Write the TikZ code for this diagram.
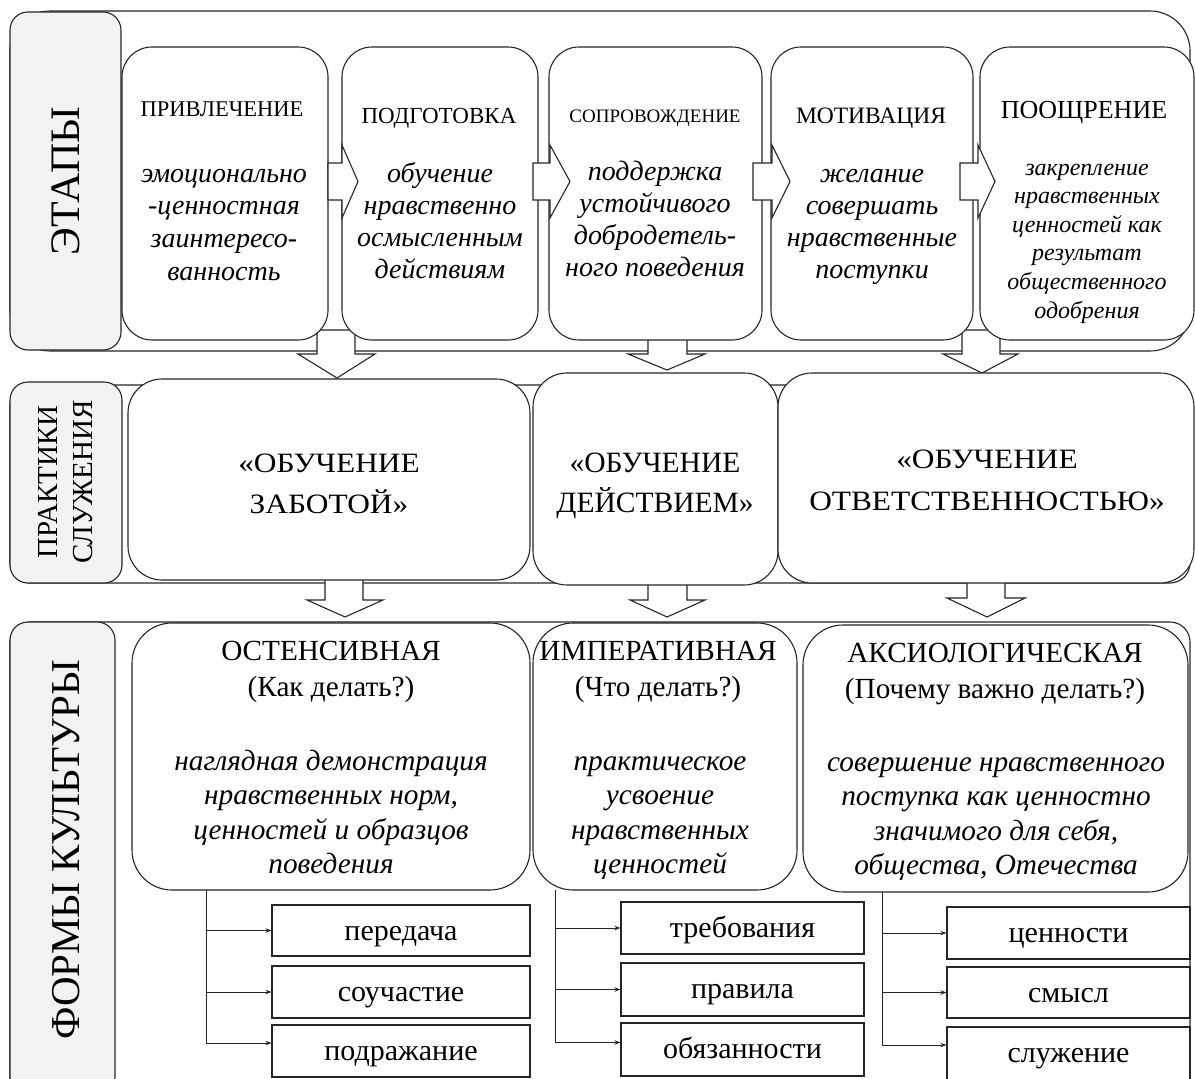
\documentclass[tikz,border=0pt]{standalone}
\usepackage{fontspec}
\setmainfont{Liberation Serif}
\newfontfamily\wide{Liberation Serif}[FakeStretch=1.12]
\usetikzlibrary{calc,arrows.meta}
\definecolor{labgray}{HTML}{F2F2F2}
\definecolor{ink}{HTML}{262626}
\newcommand\mkbox[6]{\node[#1, minimum width={(#4)-(#2)}, minimum height={(#5)-(#3)}] (#6) at ({((#2)+(#4))/2},{((#3)+(#5))/2}) {};}
\newcommand\lns[1]{\begin{tabular}[t]{@{}c@{}}#1\end{tabular}}
\tikzset{
  ln/.style={draw=ink, line width=1.1pt},
  panelframe/.style={ln, inner sep=0},
  stagebox/.style={ln, fill=white, rounded corners=30pt, inner sep=0},
  midbox/.style={ln, fill=white, rounded corners=34pt, inner sep=0},
  formbox/.style={ln, fill=white, rounded corners=40pt, inner sep=0},
  labelbox/.style={ln, fill=labgray, rounded corners=18pt, inner sep=0},
  smallbox/.style={ln, fill=white, inner sep=0},
  barrow/.style={ln, fill=white, line join=miter},
  txt/.style={inner sep=0, anchor=base, text=black},
  conn/.style={draw=ink, line width=1pt, -{Stealth[length=6pt,width=4.5pt]}},
}
\begin{document}
\begin{tikzpicture}[x=1pt,y=-1pt]
\useasboundingbox (0,0) rectangle (1195,1079);
\fill[white] (0,0) rectangle (1195,1079);
\begin{scope}
\clip (0,0) rectangle (1195,1079);
% panel frames
\mkbox{panelframe, rounded corners=40pt}{10}{11}{1190}{351}{F1}
\mkbox{panelframe, rounded corners=20pt}{10}{385}{1190}{583}{F2}
\mkbox{panelframe, rounded corners=20pt}{10}{622}{1190}{1100}{F3}
% label boxes
\mkbox{labelbox}{10}{12}{121}{350}{L1}
\mkbox{labelbox}{10}{382}{122}{583}{L2}
\mkbox{labelbox}{10}{622}{115}{1095}{L3}
\node[rotate=90, inner sep=0] (L1t) at (66,181) {\fontsize{42}{42}\selectfont ЭТАПЫ};
\node[rotate=90, inner sep=0, align=center, font=\fontsize{29}{35}\selectfont] (L2t) at (66,482) {ПРАКТИКИ\\СЛУЖЕНИЯ};
\node[rotate=90, inner sep=0] (L3t) at (66,850) {\fontsize{41}{41}\selectfont ФОРМЫ КУЛЬТУРЫ};
% down arrows (behind boxes)
\draw[barrow] (317,330) -- (317,354) -- (298,354) -- (337,378) -- (375,354) -- (355,354) -- (355,330) -- cycle;
\draw[barrow] (648,330) -- (648,354) -- (628,354) -- (667,370) -- (705,354) -- (687,354) -- (687,330) -- cycle;
\draw[barrow] (962,330) -- (962,354) -- (943,354) -- (982,373) -- (1018,354) -- (1000,354) -- (1000,330) -- cycle;
\draw[barrow] (325,575) -- (325,600) -- (307,600) -- (345,617) -- (383,600) -- (363,600) -- (363,575) -- cycle;
\draw[barrow] (648,575) -- (648,600) -- (630,600) -- (667,617) -- (705,600) -- (687,600) -- (687,575) -- cycle;
\draw[barrow] (967,575) -- (967,598) -- (947,598) -- (987,617) -- (1025,598) -- (1005,598) -- (1005,575) -- cycle;
% stage boxes
\mkbox{stagebox}{122}{47}{328}{340}{s1}
\mkbox{stagebox}{342}{47}{538}{340}{s2}
\mkbox{stagebox}{549}{47}{762}{340}{s3}
\mkbox{stagebox}{771}{47}{973}{340}{s4}
\mkbox{stagebox}{980}{47}{1194}{340}{s5}
% practice boxes
\mkbox{midbox}{128}{379}{530}{580}{m1}
\mkbox{midbox}{533}{373}{778}{585}{m2}
\mkbox{midbox}{778}{373}{1194}{583}{m3}
% form boxes
\mkbox{formbox}{132}{623}{530}{890}{f1}
\mkbox{formbox}{533}{623}{797}{890}{f2}
\mkbox{formbox}{803}{625}{1188}{892}{f3}
% small boxes
\mkbox{smallbox}{272}{905}{530}{956}{p1}
\mkbox{smallbox}{272}{966}{530}{1018}{p2}
\mkbox{smallbox}{272}{1025}{530}{1077}{p3}
\mkbox{smallbox}{621}{902}{864}{954}{q1}
\mkbox{smallbox}{621}{963}{864}{1016}{q2}
\mkbox{smallbox}{621}{1023}{864}{1076}{q3}
\mkbox{smallbox}{947}{907}{1190}{959}{r1}
\mkbox{smallbox}{947}{967}{1190}{1018}{r2}
\mkbox{smallbox}{947}{1027}{1190}{1085}{r3}
% right block arrows
\draw[barrow] (328,163) -- (342,163) -- (342,145) -- (358,181.5) -- (342,218) -- (342,200) -- (328,200) -- cycle;
\draw[barrow] (533,163) -- (550,163) -- (550,145) -- (570,181.5) -- (550,218) -- (550,200) -- (533,200) -- cycle;
\draw[barrow] (753,163) -- (772,163) -- (772,145) -- (790,181.5) -- (772,218) -- (772,200) -- (753,200) -- cycle;
\draw[barrow] (960,163) -- (978,163) -- (978,145) -- (995,181.5) -- (978,218) -- (978,200) -- (960,200) -- cycle;
% stage texts
\node[txt] (s1h) at (222,116) {\fontsize{22.5}{27}\selectfont ПРИВЛЕЧЕНИЕ};
\node[txt] (s2h) at (439,123) {\fontsize{23}{27}\selectfont ПОДГОТОВКА};
\node[txt] (s3h) at (655,122) {\fontsize{19}{27}\selectfont СОПРОВОЖДЕНИЕ};
\node[txt] (s4h) at (871,123) {\fontsize{23.5}{27}\selectfont МОТИВАЦИЯ};
\node[txt] (s5h) at (1084,118) {\fontsize{26}{27}\selectfont ПООЩРЕНИЕ};
\node[txt] (s1i) at (224,182) {\fontsize{28}{32.7}\selectfont\itshape\lns{эмоционально\\-ценностная\\заинтересо-\\ванность}};
\node[txt] (s2i) at (440,182) {\fontsize{28}{32}\selectfont\itshape\lns{обучение\\нравственно\\осмысленным\\действиям}};
\node[txt] (s3i) at (655,180) {\fontsize{28}{32}\selectfont\itshape\lns{поддержка\\устойчивого\\добродетель-\\ного поведения}};
\node[txt] (s4i) at (872,182) {\fontsize{28}{32}\selectfont\itshape\lns{желание\\совершать\\нравственные\\поступки}};
\node[txt] (s5i) at (1087,175) {\fontsize{24}{28.6}\selectfont\itshape\lns{закрепление\\нравственных\\ценностей как\\результат\\общественного\\одобрения}};
% practice texts
\node[txt] (m1t) at (329,472) {\wide\fontsize{28}{41}\selectfont\lns{«ОБУЧЕНИЕ\\ЗАБОТОЙ»}};
\node[txt] (m2t) at (655,472) {\fontsize{29.5}{40}\selectfont\lns{«ОБУЧЕНИЕ\\ДЕЙСТВИЕМ»}};
\node[txt] (m3t) at (987,468) {\wide\fontsize{28}{42}\selectfont\lns{«ОБУЧЕНИЕ\\ОТВЕТСТВЕННОСТЬЮ»}};
% form texts
\node[txt] (f1h) at (331,660) {\fontsize{29.2}{36}\selectfont\lns{ОСТЕНСИВНАЯ\\(Как делать?)}};
\node[txt] (f1i) at (331,770) {\fontsize{29.3}{34.5}\selectfont\itshape\lns{наглядная демонстрация\\нравственных норм,\\ценностей и образцов\\поведения}};
\node[txt] (f2h) at (658,660) {\fontsize{29.2}{36}\selectfont\lns{ИМПЕРАТИВНАЯ\\(Что делать?)}};
\node[txt] (f2i) at (660,770) {\fontsize{29.3}{34.5}\selectfont\itshape\lns{практическое\\усвоение\\нравственных\\ценностей}};
\node[txt] (f3h) at (995,662) {\fontsize{29.2}{36}\selectfont\lns{АКСИОЛОГИЧЕСКАЯ\\(Почему важно делать?)}};
\node[txt] (f3i) at (996,771) {\fontsize{29.3}{34.5}\selectfont\itshape\lns{совершение нравственного\\поступка как ценностно\\значимого для себя,\\общества, Отечества}};
% small box texts
\node[txt] (p1t) at ($(p1.north)+(0,36)$) {\fontsize{30}{30}\selectfont передача};
\node[txt] (p2t) at ($(p2.north)+(0,36)$) {\fontsize{30}{30}\selectfont соучастие};
\node[txt] (p3t) at ($(p3.north)+(0,36)$) {\fontsize{30}{30}\selectfont подражание};
\node[txt] (q1t) at ($(q1.north)+(0,36)$) {\fontsize{30}{30}\selectfont требования};
\node[txt] (q2t) at ($(q2.north)+(0,36)$) {\fontsize{30}{30}\selectfont правила};
\node[txt] (q3t) at ($(q3.north)+(0,36)$) {\fontsize{30}{30}\selectfont обязанности};
\node[txt] (r1t) at ($(r1.north)+(0,36)$) {\fontsize{30}{30}\selectfont ценности};
\node[txt] (r2t) at ($(r2.north)+(0,36)$) {\fontsize{30}{30}\selectfont смысл};
\node[txt] (r3t) at ($(r3.north)+(0,36)$) {\fontsize{30}{30}\selectfont служение};
% connectors
\coordinate (k1) at (206,890);
\coordinate (k2) at (555,890);
\coordinate (k3) at (882,892);
\draw[conn] (k1) |- (p1.west);
\draw[conn] (k1) |- (p2.west);
\draw[conn] (k1) |- ($(p3.west)+(0,-8)$);
\draw[conn] (k2) |- (q1.west);
\draw[conn] (k2) |- (q2.west);
\draw[conn] (k2) |- ($(q3.west)+(0,-7)$);
\draw[conn] (k3) |- (r1.west);
\draw[conn] (k3) |- (r2.west);
\draw[conn] (k3) |- ($(r3.west)+(0,-11)$);
\end{scope}
\end{tikzpicture}
\end{document}
